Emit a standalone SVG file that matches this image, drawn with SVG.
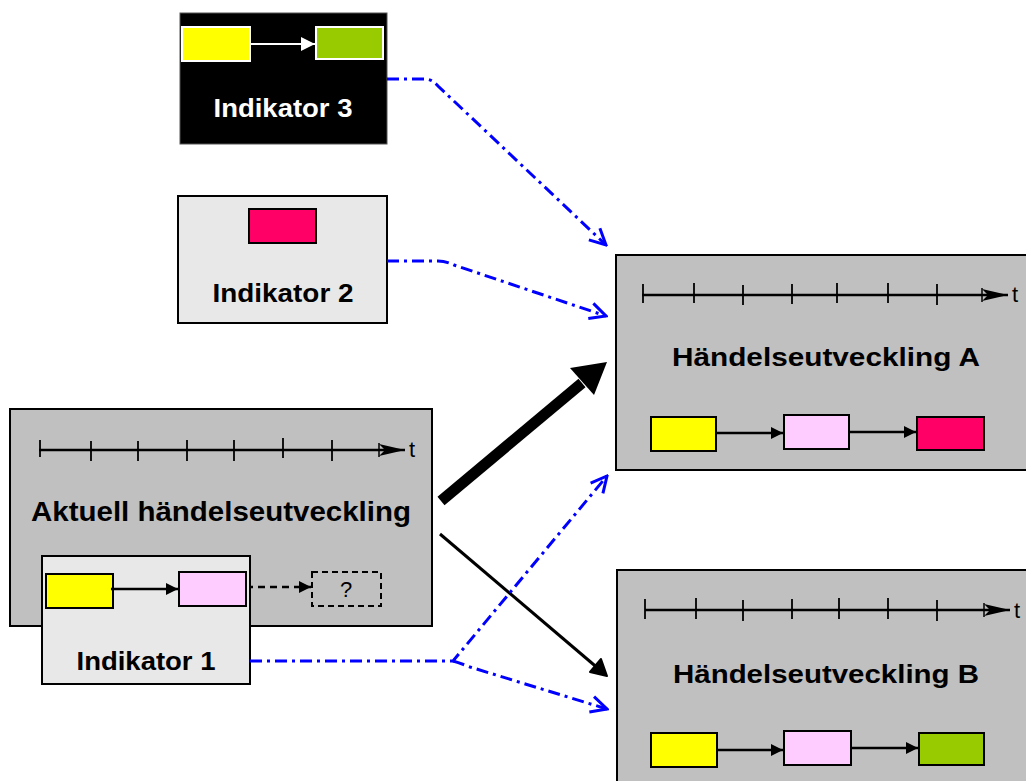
<svg xmlns="http://www.w3.org/2000/svg" width="1026" height="781" viewBox="0 0 1026 781">
  <defs>
    <style>
      .lbl { font-family: "Liberation Sans", Arial, sans-serif; font-weight: bold; text-anchor: middle; }
      .panel { fill: #c0c0c0; stroke: #000; stroke-width: 2; }
      .ind { fill: #e8e8e8; stroke: #000; stroke-width: 2; }
      .box { stroke: #000; stroke-width: 2; }
      .yel { fill: #ffff00; }
      .pnk { fill: #ffccff; }
      .red { fill: #ff0066; }
      .grn { fill: #99cc00; }
      .axis { stroke: #000; stroke-width: 2.5; fill: none; }
      .tick { stroke: #000; stroke-width: 1.8; }
      .step { stroke: #000; stroke-width: 2.5; fill: none; marker-end: url(#tri); }
      .blue { stroke: #0000ff; stroke-width: 3; fill: none; stroke-dasharray: 12 5 3 5; }
      .tl { font-family: "Liberation Sans", Arial, sans-serif; font-size: 22px; }
    </style>
    <marker id="tri" viewBox="0 0 10 10" refX="10" refY="5" markerWidth="14" markerHeight="12" markerUnits="userSpaceOnUse" orient="auto">
      <path d="M0,0 L10,5 L0,10 Z" fill="#000"/>
    </marker>
    <marker id="triW" viewBox="0 0 10 10" refX="10" refY="5" markerWidth="15" markerHeight="14" markerUnits="userSpaceOnUse" orient="auto">
      <path d="M0,0 L10,5 L0,10 Z" fill="#fff"/>
    </marker>
    <marker id="vee" viewBox="0 0 20 20" refX="18" refY="10" markerWidth="20" markerHeight="20" markerUnits="userSpaceOnUse" orient="auto">
      <path d="M2,2 L18,10 L2,18" fill="none" stroke="#0000ff" stroke-width="3"/>
    </marker>
    <marker id="axisHead" viewBox="0 0 28 14" refX="27" refY="7" markerWidth="28" markerHeight="14" markerUnits="userSpaceOnUse" orient="auto">
      <path d="M1,1 L27,7 L1,13 L7,7 Z" fill="#000"/>
      <line x1="1" y1="0" x2="1" y2="14" stroke="#000" stroke-width="1.5"/>
    </marker>
  </defs>

  <!-- Indikator 3 -->
  <g id="indikator3">
    <rect x="180" y="13" width="207" height="131" fill="#000" stroke="#555" stroke-width="1"/>
    <rect x="182" y="27" width="68" height="34" class="yel" stroke="#fff" stroke-width="2"/>
    <rect x="316" y="27" width="67" height="32" class="grn" stroke="#fff" stroke-width="2"/>
    <line x1="250" y1="44" x2="315" y2="44" stroke="#fff" stroke-width="2" marker-end="url(#triW)"/>
    <text x="283" y="117" class="lbl" font-size="26" fill="#fff" textLength="139" lengthAdjust="spacingAndGlyphs">Indikator 3</text>
  </g>

  <!-- Indikator 2 -->
  <g id="indikator2">
    <rect x="178" y="196" width="209" height="127" class="ind"/>
    <rect x="249" y="209" width="67" height="34" class="box red"/>
    <text x="283" y="302" class="lbl" font-size="26" fill="#000" textLength="141" lengthAdjust="spacingAndGlyphs">Indikator 2</text>
  </g>

  <!-- Current course of events -->
  <g id="aktuell">
    <rect x="10" y="409" width="422" height="217" class="panel"/>
    <line x1="39" y1="450" x2="405" y2="450" class="axis" marker-end="url(#axisHead)"/>
    <g class="tick">
      <line x1="40" y1="440" x2="40" y2="457"/>
      <line x1="91" y1="441" x2="91" y2="461"/>
      <line x1="138" y1="441" x2="138" y2="461"/>
      <line x1="187" y1="440" x2="187" y2="461"/>
      <line x1="234" y1="440" x2="234" y2="461"/>
      <line x1="283" y1="438" x2="283" y2="458"/>
      <line x1="332" y1="440" x2="332" y2="461"/>
    </g>
    <text x="409" y="457" class="tl">t</text>
    <text x="221" y="521" class="lbl" font-size="27" fill="#000" textLength="380" lengthAdjust="spacingAndGlyphs">Aktuell händelseutveckling</text>
    <line x1="246" y1="587" x2="311" y2="587" stroke="#000" stroke-width="2.5" stroke-dasharray="7 5" marker-end="url(#tri)"/>
    <rect x="312" y="572" width="69" height="34" fill="none" stroke="#000" stroke-width="2" stroke-dasharray="6 4"/>
    <text x="346" y="597" class="tl" text-anchor="middle" font-size="20">?</text>
  </g>

  <!-- Indikator 1 -->
  <g id="indikator1">
    <rect x="42" y="556" width="208" height="128" class="ind"/>
    <rect x="46" y="574" width="67" height="34" class="box yel"/>
    <rect x="179" y="572" width="67" height="34" class="box pnk"/>
    <line x1="111" y1="589" x2="178" y2="589" class="step"/>
    <text x="146" y="670" class="lbl" font-size="26" fill="#000" textLength="139" lengthAdjust="spacingAndGlyphs">Indikator 1</text>
  </g>

  <!-- Course of events A -->
  <g id="utveckling-a">
    <rect x="616" y="255" width="416" height="215" class="panel"/>
    <line x1="642" y1="295" x2="1008" y2="295" class="axis" marker-end="url(#axisHead)"/>
    <g class="tick">
      <line x1="643" y1="284" x2="643" y2="303"/>
      <line x1="694" y1="283" x2="694" y2="303"/>
      <line x1="743" y1="285" x2="743" y2="305"/>
      <line x1="792" y1="284" x2="792" y2="304"/>
      <line x1="837" y1="283" x2="837" y2="303"/>
      <line x1="888" y1="283" x2="888" y2="303"/>
      <line x1="937" y1="284" x2="937" y2="305"/>
    </g>
    <text x="1012" y="302" class="tl">t</text>
    <text x="826" y="366" class="lbl" font-size="25" fill="#000" textLength="308" lengthAdjust="spacingAndGlyphs">Händelseutveckling A</text>
    <rect x="651" y="417" width="65" height="34" class="box yel"/>
    <rect x="784" y="415" width="65" height="34" class="box pnk"/>
    <rect x="917" y="417" width="67" height="33" class="box red"/>
    <line x1="716" y1="433" x2="783" y2="433" class="step"/>
    <line x1="849" y1="432" x2="916" y2="432" class="step"/>
  </g>

  <!-- Course of events B -->
  <g id="utveckling-b">
    <rect x="617" y="570" width="415" height="215" class="panel"/>
    <line x1="645" y1="610" x2="1010" y2="610" class="axis" marker-end="url(#axisHead)"/>
    <g class="tick">
      <line x1="645" y1="599" x2="645" y2="619"/>
      <line x1="696" y1="598" x2="696" y2="619"/>
      <line x1="743" y1="600" x2="743" y2="621"/>
      <line x1="792" y1="599" x2="792" y2="619"/>
      <line x1="839" y1="598" x2="839" y2="619"/>
      <line x1="888" y1="598" x2="888" y2="619"/>
      <line x1="937" y1="600" x2="937" y2="621"/>
    </g>
    <text x="1014" y="618" class="tl">t</text>
    <text x="826" y="683" class="lbl" font-size="25" fill="#000" textLength="306" lengthAdjust="spacingAndGlyphs">Händelseutveckling B</text>
    <rect x="651" y="733" width="66" height="34" class="box yel"/>
    <rect x="784" y="731" width="67" height="34" class="box pnk"/>
    <rect x="919" y="733" width="65" height="32" class="box grn"/>
    <line x1="716" y1="750" x2="783" y2="750" class="step"/>
    <line x1="851" y1="748" x2="918" y2="748" class="step"/>
  </g>

  <!-- Connectors -->
  <g id="connectors">
    <!-- main transitions -->
    <line x1="441" y1="501" x2="582" y2="383" stroke="#000" stroke-width="11"/>
    <path d="M607,362 L594,395 L570,368 Z" fill="#000"/>
    <line x1="440" y1="534" x2="600" y2="670" stroke="#000" stroke-width="3"/>
    <path d="M607,676 L590,672 L601,659 Z" fill="#000" stroke="#000" stroke-width="2" stroke-linejoin="round"/>
    <!-- indicator links -->
    <path d="M387,79 H425 Q432,79 438,86 L606,245" class="blue" marker-end="url(#vee)"/>
    <path d="M387,261 H438 Q446,261 454,265 L606,316" class="blue" marker-end="url(#vee)"/>
    <path d="M250,661 H453 L607,476" class="blue" marker-end="url(#vee)"/>
    <path d="M453,661 Q460,663 470,667 L607,709" class="blue" marker-end="url(#vee)"/>
  </g>
</svg>
